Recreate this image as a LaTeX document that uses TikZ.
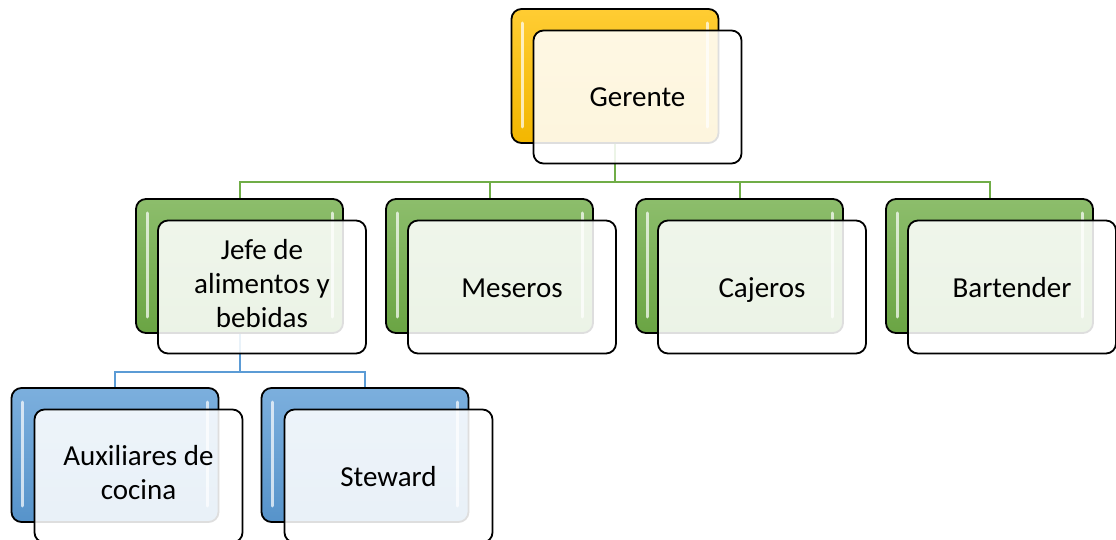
\documentclass[tikz,border=0pt]{standalone}
\usepackage{fontspec}
\setmainfont{Carlito}
\definecolor{oro}{HTML}{FFC000}
\definecolor{verde}{HTML}{70AD47}
\definecolor{azul}{HTML}{5B9BD5}
\begin{document}
\begin{tikzpicture}[x=1pt,y=-1pt,
    fondo/.style={draw=black,line width=1.8pt,rounded corners=10pt,
      minimum width=207pt,minimum height=134pt,
      top color=#1!80!white,middle color=#1,bottom color=#1!95!black,
      path picture={
        \draw[white,opacity=0.7,line width=3pt,line cap=round]
          ([xshift=11pt,yshift=-14pt]path picture bounding box.north west)
          -- ([xshift=11pt,yshift=16pt]path picture bounding box.south west)
          ([xshift=-11pt,yshift=-14pt]path picture bounding box.north east)
          -- ([xshift=-11pt,yshift=16pt]path picture bounding box.south east);}},
    frente/.style={draw=black,line width=1.8pt,rounded corners=10pt,
      fill=white,fill opacity=0.87,text opacity=1,align=center,
      minimum width=208pt,minimum height=133pt,
      font=\fontsize{29}{34}\selectfont,
      execute at begin node=\rule[-7pt]{0pt}{34pt},
      execute at end node=\rule[-7pt]{0pt}{34pt}},
    conector/.style={line width=2pt}]
    \useasboundingbox (0,0) rectangle (1116,540);
    % cajas de fondo
    \node[fondo=oro] (gerente-b) at (615,76) {};
    \node[fondo=verde] (jefe-b) at (239.5,266) {};
    \node[fondo=verde] (meseros-b) at (489.5,266) {};
    \node[fondo=verde] (cajeros-b) at (739.5,266) {};
    \node[fondo=verde] (bartender-b) at (989.5,266) {};
    \node[fondo=azul] (auxiliares-b) at (115,455) {};
    \node[fondo=azul] (steward-b) at (365,455) {};
    % conectores
    \draw[conector,verde] (gerente-b.south) -- ++(0,38) -| (jefe-b.north);
    \draw[conector,verde] (gerente-b.south) -- ++(0,38) -| (meseros-b.north);
    \draw[conector,verde] (gerente-b.south) -- ++(0,38) -| (cajeros-b.north);
    \draw[conector,verde] (gerente-b.south) -- ++(0,38) -| (bartender-b.north);
    \draw[conector,azul] (jefe-b.south) -- ++(0,38) -| (auxiliares-b.north);
    \draw[conector,azul] (jefe-b.south) -- ++(0,38) -| (steward-b.north);
    % cajas de frente
    \node[frente] (gerente) at (637.5,97) {Gerente};
    \node[frente] (jefe) at (262,287) {Jefe de\\alimentos y\\bebidas};
    \node[frente] (meseros) at (512,287) {Meseros};
    \node[frente] (cajeros) at (762,287) {Cajeros};
    \node[frente] (bartender) at (1012,287) {Bartender};
    \node[frente] (auxiliares) at (138.5,476) {Auxiliares de\\cocina};
    \node[frente] (steward) at (388.5,476) {Steward};
\end{tikzpicture}
\end{document}
